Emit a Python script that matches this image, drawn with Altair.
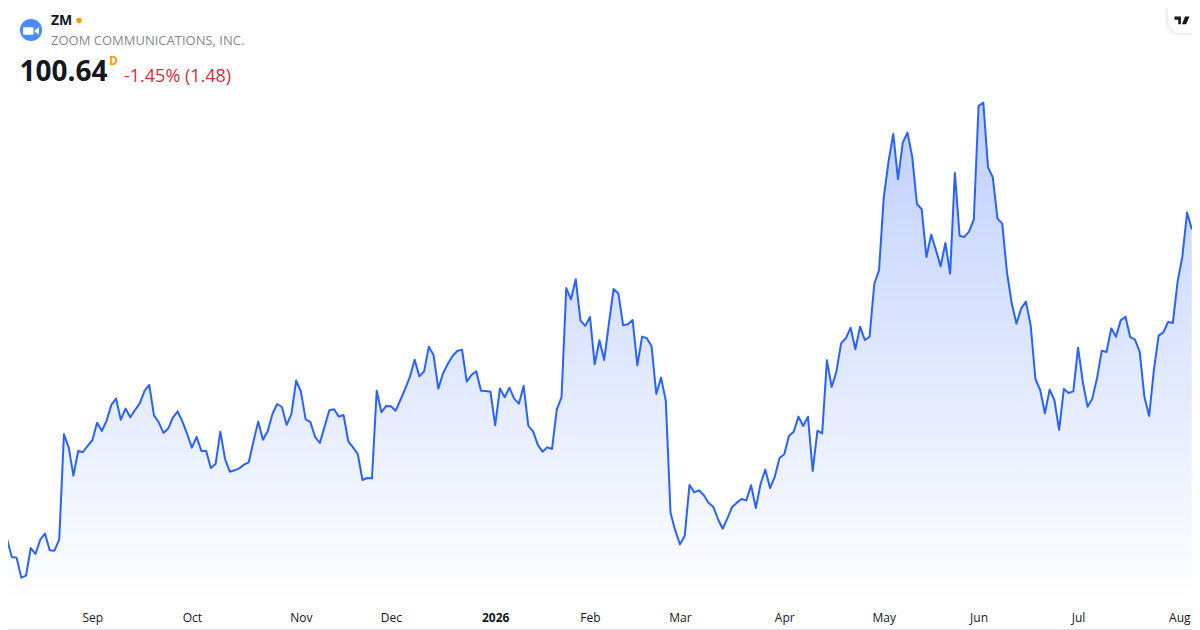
import altair as alt
import pandas as pd

prices = [
72.11,73.51,71.97,71.91,70.16,70.33,72.75,72.23,73.48,74.01,72.55,72.52,73.48,82.70,81.56,79.08,81.24,81.13,81.68,82.18,
83.72,82.99,83.90,85.27,85.82,83.98,84.95,84.19,84.83,85.41,86.49,87.02,84.36,83.75,82.82,83.20,84.19,84.71,83.81,82.73,
81.53,82.47,81.24,81.27,79.75,80.10,82.93,80.54,79.43,79.55,79.72,80.05,80.25,82.09,83.81,82.23,82.99,84.48,85.35,85.09,
83.52,84.48,87.40,86.46,84.01,83.78,82.47,81.94,83.37,84.80,84.89,84.25,84.39,82.09,81.56,80.98,78.70,78.88,78.85,86.52,
84.63,85.18,85.15,84.77,85.70,86.67,87.72,89.23,87.77,88.21,90.37,89.61,86.70,88.04,88.85,89.55,89.99,90.11,87.31,87.89,
88.21,86.52,86.49,86.43,83.49,86.70,85.94,86.78,85.82,85.38,86.93,83.43,82.96,81.77,81.18,81.56,81.42,84.89,85.94,95.50,
94.51,96.26,92.65,92.18,92.97,88.82,90.93,89.20,92.41,95.42,95.01,92.24,92.33,92.70,88.74,91.25,91.10,90.40,86.23,87.66,
85.65,75.84,74.27,73.07,73.83,78.27,77.62,77.80,77.39,76.72,76.37,75.29,74.44,75.35,76.34,76.72,77.04,76.92,78.24,76.25,
78.35,79.61,78.00,78.99,80.63,80.95,82.58,82.93,84.25,83.43,84.24,79.49,83.02,82.78,89.17,86.84,88.18,90.66,91.10,92.03,
90.14,92.12,90.95,91.24,95.85,97.08,103.44,106.56,108.98,105.01,108.22,109.10,107.00,102.85,102.39,98.22,100.17,98.83,97.40,99.44,
96.76,105.57,100.08,99.97,100.43,101.51,111.43,111.72,106.06,105.19,101.57,101.13,96.84,94.16,92.38,93.72,94.31,92.21,87.54,86.58,
84.54,86.61,85.70,83.08,86.66,86.31,86.46,90.28,87.28,85.12,85.82,87.60,90.02,89.90,91.97,91.24,92.67,92.99,91.21,90.98,
89.93,85.96,84.30,88.33,91.33,91.62,92.53,92.44,96.06,98.24,102.10,100.64,
]
tick_days = [19, 40, 63, 82, 104, 124, 143, 165, 186, 206, 227, 249]
tick_labels = ["Sep", "Oct", "Nov", "Dec", "2026", "Feb", "Mar", "Apr", "May", "Jun", "Jul", "Aug"]
ticker = "ZM"
company = "ZOOM COMMUNICATIONS, INC."
last_price = "100.64"
change = "-1.45% (1.48)"
interval = "D"

BLUE = "#2962ff"
FONT = "Open Sans"
W, H = 1184, 595
Y_MIN, Y_MAX = 67.94, 120.0
X_MIN, X_MAX = 1.196, 251.04

df = pd.DataFrame({"day": list(range(len(prices))), "price": prices})
label_expr = "{" + ",".join(f"{d}:'{l}'" for d, l in zip(tick_days, tick_labels)) + "}[datum.value]"

x = alt.X("day:Q", scale=alt.Scale(domain=[X_MIN, X_MAX], nice=False, zero=False),
          axis=alt.Axis(values=tick_days, labelExpr=label_expr, title=None, grid=False, domain=False,
                        ticks=False, labelPadding=9, labelFont=FONT, labelFontSize=12, labelColor="#131722",
                        labelFlush=False, labelOverlap=False, labelAngle=0,
                        labelOffset={"condition": {"test": "datum.value == 249", "value": -3}, "value": 0},
                        labelFontWeight={"condition": {"test": "datum.value == 104", "value": "bold"}, "value": "normal"}))
y = alt.Y("price:Q", scale=alt.Scale(domain=[Y_MIN, Y_MAX], nice=False, zero=False), axis=None)

area = alt.Chart(df).mark_area(
    color=alt.Gradient(gradient="linear", x1=0, x2=0, y1=0, y2=1,
                       stops=[alt.GradientStop(color="rgba(41,98,255,0.30)", offset=0),
                              alt.GradientStop(color="rgba(41,98,255,0.0)", offset=1)])
).encode(x=x, y=y, y2=alt.datum(Y_MIN))
line = alt.Chart(df).mark_line(color=BLUE, strokeWidth=2, strokeJoin="round").encode(x=x, y=y)

def px(v):  # page pixel to chart pixel
    return alt.value(v - 8)

one = pd.DataFrame({"a": [0]})

def label(text, x0, y0, size, color, weight="normal", align="left"):
    return alt.Chart(one).mark_text(text=text, font=FONT, fontSize=size, color=color, fontWeight=weight,
                                    align=align, baseline="middle").encode(x=px(x0), y=px(y0))

def dot(x0, y0, size, color):
    return alt.Chart(one).mark_point(shape="circle", filled=True, opacity=1, size=size, color=color, strokeWidth=0).encode(x=px(x0), y=px(y0))

camera = alt.Chart(one).mark_point(
    shape="M-1 -0.55 L0.2 -0.55 Q0.37 -0.55 0.37 -0.38 L0.37 0.38 Q0.37 0.55 0.2 0.55 L-1 0.55 Q-1.17 0.55 -1.17 0.38 L-1.17 -0.38 Q-1.17 -0.55 -1 -0.55 Z M0.55 -0.12 L1.17 -0.55 L1.17 0.55 L0.55 0.12 Z",
    filled=True, opacity=1, size=185, color="white", strokeWidth=0).encode(x=px(31), y=px(31))

tv = alt.Chart(one).mark_point(
    shape="M-1 -0.55 L-0.15 -0.55 L-0.15 0.5 L-0.5 0.5 L-0.5 -0.1 L-1 -0.1 Z M0.4 -0.55 L1 -0.55 L0.55 0.5 L0 0.5 Z",
    filled=True, opacity=1, size=225, color="#131722", strokeWidth=0).encode(x=px(1182), y=px(20.5))

shadows = [
    alt.Chart(one).mark_rect(color="#000000", opacity=o, cornerRadiusBottomLeft=13+g).encode(
        x=px(1168-g), x2=px(1193), y=px(7), y2=px(33+g))
    for g, o in [(4, 0.012), (3, 0.016), (2, 0.02), (1, 0.024)]
]
badge = alt.Chart(one).mark_rect(color="white", cornerRadiusBottomLeft=13).encode(
    x=px(1168), x2=px(1193), y=px(7), y2=px(33))

border_b = alt.Chart(one).mark_rule(color="#e0e3eb", strokeWidth=1).encode(x=px(8), x2=px(1192), y=px(629.5))

chart = alt.layer(
    area, line,
    *shadows, badge, tv,
    dot(31, 30, 491, "#4a8cff"), camera,
    label(ticker, 51, 21, 14, "#131722", "bold"),
    dot(79, 20.5, 28, "#ff9800"),
    label(company, 51, 41, 13, "#868993"),
    label(last_price, 19.5, 72.5, 28, "#131722", "bold"),
    label(interval, 109, 61, 12, "#ff9800", "bold"),
    label(change, 124, 76.5, 18, "#cc2f3c"),
    border_b,
).properties(width=W, height=H, padding={"left": 0, "top": 0, "right": 0, "bottom": 27},
             autosize=alt.AutoSizeParams(type="none"), background="white"
).configure_view(stroke=None)

chart.save("out.html", embed_options={"renderer": "svg", "actions": False})
